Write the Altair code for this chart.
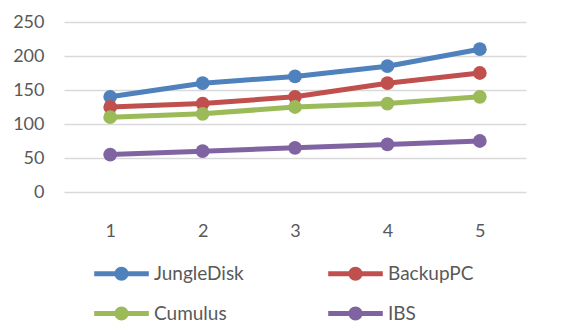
import altair as alt
import pandas as pd

categories = ["1", "2", "3", "4", "5"]
series_names = ["JungleDisk", "BackupPC", "Cumulus", "IBS"]
jungledisk = [140, 160, 170, 185, 210]
backuppc = [125, 130, 140, 160, 175]
cumulus = [110, 115, 125, 130, 140]
ibs = [55, 60, 65, 70, 75]
y_ticks = [0, 50, 100, 150, 200, 250]
colors = ["#4F81BD", "#C0504D", "#9BBB59", "#8064A2"]

rows = []
for name, vals in zip(series_names, [jungledisk, backuppc, cumulus, ibs]):
    for c, v in zip(categories, vals):
        rows.append({"x": c, "value": v, "series": name})
df = pd.DataFrame(rows)

FONT = "Lato"
TXT = "#595959"

x = alt.X("x:O", sort=categories,
          scale=alt.Scale(type="point", padding=0.5),
          axis=alt.Axis(title=None, labelAngle=0, ticks=False, domain=False,
                        grid=False, labelPadding=30, labelFontSize=18,
                        labelColor=TXT, labelFont=FONT))
y = alt.Y("value:Q", scale=alt.Scale(domain=[0, 250], nice=False),
          axis=alt.Axis(title=None, values=y_ticks, ticks=False, domain=False,
                        gridColor="#D9D9D9", gridWidth=1.5, labelPadding=20,
                        labelFontSize=18, labelColor=TXT, labelFont=FONT))

legend_symbol = ("M-3.9,-0.34 L3.9,-0.34 L3.9,0.34 L-3.9,0.34 Z "
                 "M-1,0 A1,1 0 1,1 1,0 A1,1 0 1,1 -1,0 Z")

legend = alt.Legend(title=None, orient="none", legendX=48, legendY=242,
                    columns=2, direction="horizontal",
                    symbolType=legend_symbol, symbolSize=196,
                    symbolStrokeWidth=0, symbolOpacity=1,
                    labelOffset=23, labelFontSize=19, labelColor=TXT,
                    labelFont=FONT, columnPadding=84, rowPadding=20,
                    labelLimit=300)
color = alt.Color("series:N", sort=series_names,
                  scale=alt.Scale(domain=series_names, range=colors),
                  legend=legend)

lines = alt.Chart(df).mark_line(strokeWidth=5, strokeJoin="round").encode(
    x=x, y=y, color=color)
points = alt.Chart(df).mark_point(filled=True, size=190, opacity=1).encode(
    x=x, y=y, color=color)

chart = alt.layer(lines, points).properties(
    width=462, height=170,
    background="white",
    autosize=alt.AutoSizeParams(type="none"),
    padding={"left": 64, "top": 22, "right": 53, "bottom": 133},
).configure_view(stroke=None)

chart.save("out.html", embed_options={"renderer": "svg", "actions": False})
